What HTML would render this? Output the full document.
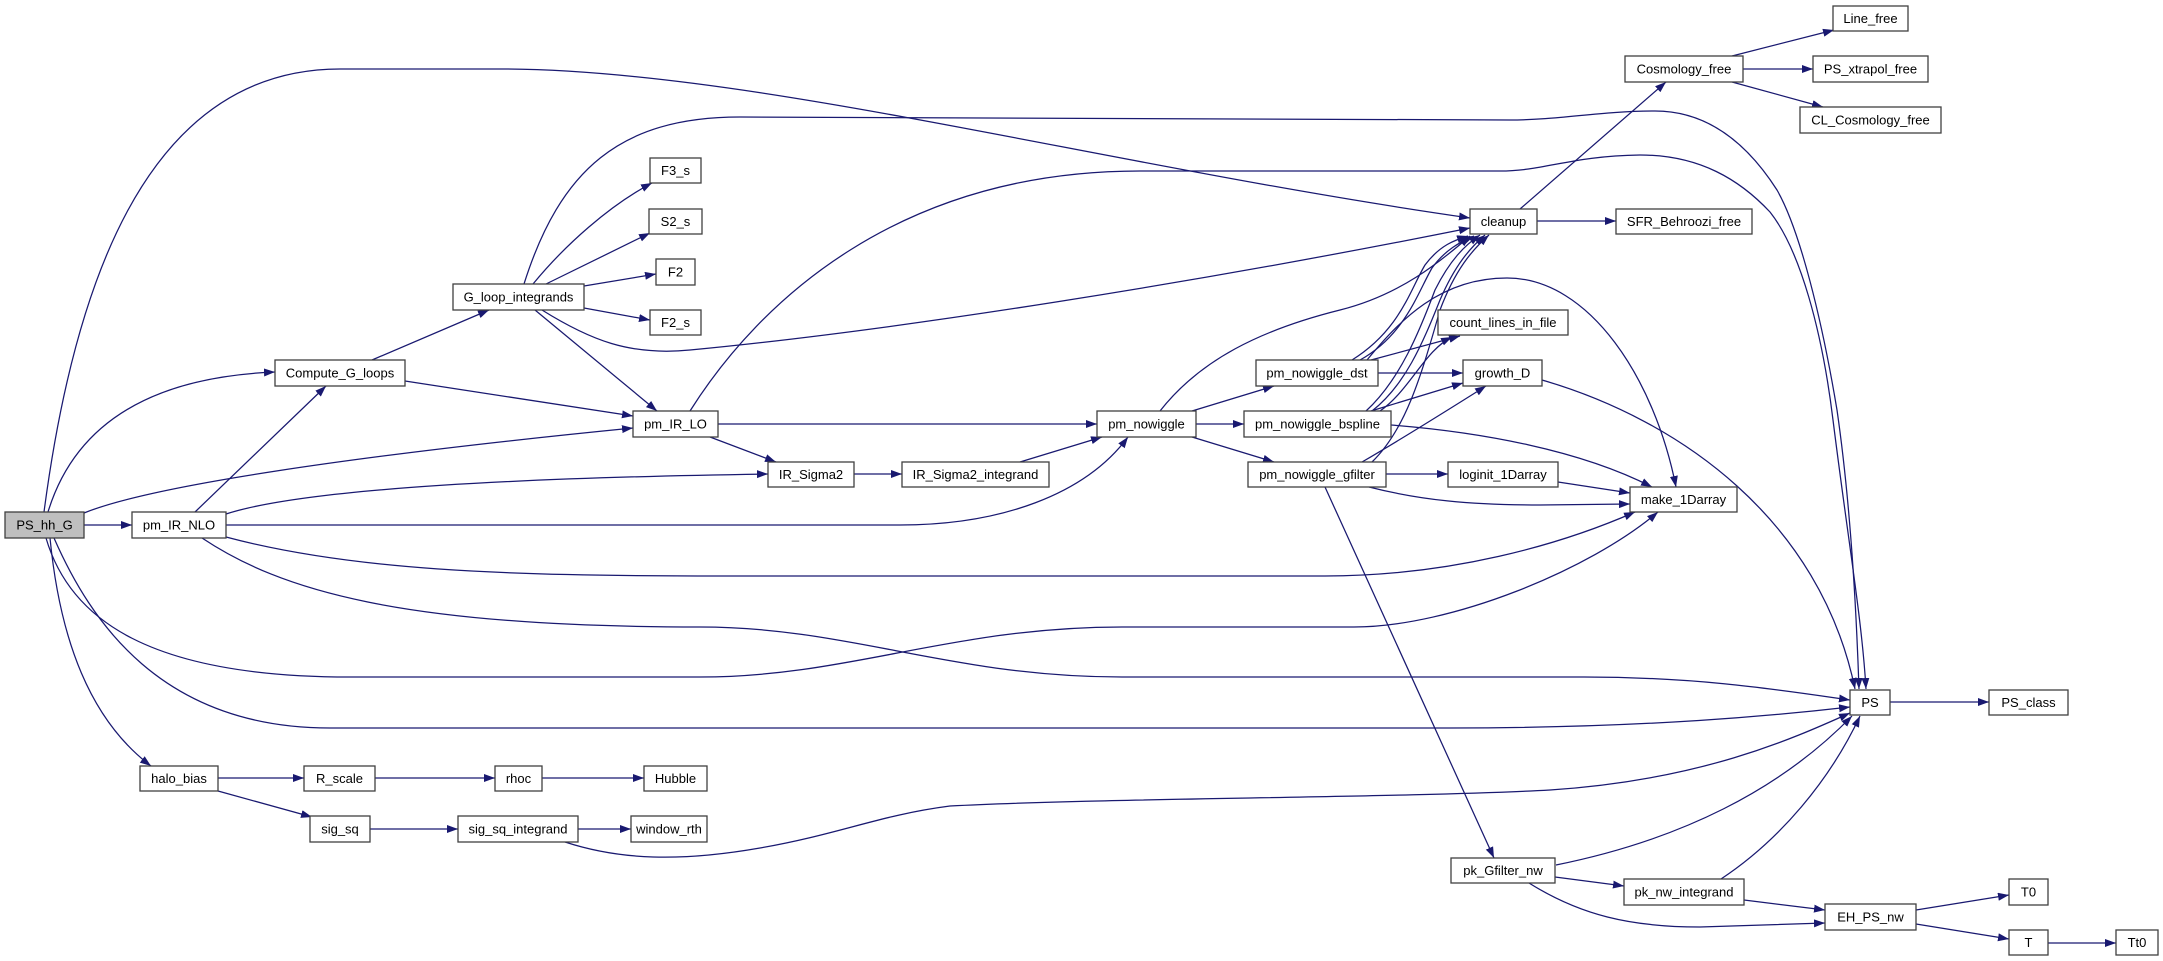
<!DOCTYPE html>
<html><head><meta charset="utf-8"><style>
html,body{margin:0;padding:0;background:#fff;}
svg{display:block;}
text{font-family:"Liberation Sans",Arial,sans-serif;font-size:13px;fill:#000;text-anchor:middle;}
.e{fill:none;stroke:#191970;stroke-width:1.25;marker-end:url(#ah);}
.n{fill:#fff;stroke:#404040;stroke-width:1.3;}
</style></head><body>
<svg width="2163" height="961" viewBox="0 0 2163 961" xmlns="http://www.w3.org/2000/svg">
<defs>
<marker id="ah" markerUnits="userSpaceOnUse" markerWidth="12" markerHeight="9" refX="11" refY="4" orient="auto">
<path d="M0,0 L11,4 L0,8 z" fill="#191970"/>
</marker>
</defs>
<rect width="2163" height="961" fill="#fff"/>
<!-- edges -->
<path class="e" d="M84,525 L132,525"/>
<path class="e" d="M48,512 C70,440 130,378 275,372"/>
<path class="e" d="M84,513 C150,486 350,456 633,428"/>
<path class="e" d="M44,512 C72,300 140,69 340,69 L500,69 C750,69 1100,165 1470,218"/>
<path class="e" d="M50,538 C60,640 90,720 151,766"/>
<path class="e" d="M54,538 C90,620 160,728 330,728 L1450,728 C1650,728 1780,715 1850,707"/>
<path class="e" d="M46,538 C70,620 150,677 350,677 L700,677 C850,677 950,627 1122,627 L1354,627 C1450,627 1590,570 1658,512"/>
<path class="e" d="M202,538 C280,590 400,627 700,627 C850,627 950,677 1122,677 L1584,677 C1700,677 1780,690 1850,700"/>
<path class="e" d="M226,537 C350,570 500,576 720,576 L1325,576 C1450,576 1560,545 1635,512"/>
<path class="e" d="M226,525 L900,525 C1000,525 1085,495 1128,437"/>
<path class="e" d="M226,514 C300,490 500,478 768,474"/>
<path class="e" d="M195,512 L326,386"/>
<path class="e" d="M372,360 L489,310"/>
<path class="e" d="M405,381 L633,416"/>
<path class="e" d="M535,310 L657,411"/>
<path class="e" d="M533,284 C565,245 610,205 652,183"/>
<path class="e" d="M546,284 L650,233"/>
<path class="e" d="M584,286 L656,274"/>
<path class="e" d="M584,308 L650,320"/>
<path class="e" d="M542,310 C590,340 630,356 690,350 C900,330 1200,282 1470,228"/>
<path class="e" d="M524,284 C560,170 620,117 740,117 L1510,120 C1560,120 1600,111 1655,111 C1705,111 1745,140 1777,190 C1800,230 1822,320 1837,410 C1850,500 1856,600 1859,689"/>
<path class="e" d="M690,411 C760,300 900,171 1140,171 L1500,171 C1545,171 1570,156 1640,155 C1700,155 1740,180 1770,212 C1800,250 1822,330 1833,420 C1848,540 1862,620 1866,689"/>
<path class="e" d="M718,424 L1097,424"/>
<path class="e" d="M710,437 L776,462"/>
<path class="e" d="M854,474 L902,474"/>
<path class="e" d="M1020,462 L1102,437"/>
<path class="e" d="M1160,411 C1200,360 1260,330 1340,310 C1400,295 1440,262 1470,236"/>
<path class="e" d="M1192,411 L1274,386"/>
<path class="e" d="M1196,424 L1244,424"/>
<path class="e" d="M1192,437 L1274,462"/>
<path class="e" d="M1352,360 C1400,330 1410,290 1425,265 C1440,245 1455,240 1468,236"/>
<path class="e" d="M1360,360 C1405,335 1418,292 1432,268 C1445,250 1460,242 1474,236"/>
<path class="e" d="M1371,360 L1460,336"/>
<path class="e" d="M1378,373 L1463,373"/>
<path class="e" d="M1367,360 C1400,320 1440,278 1507,278 C1590,278 1655,380 1676,487"/>
<path class="e" d="M1366,411 C1400,380 1420,330 1435,290 C1450,260 1465,245 1480,235"/>
<path class="e" d="M1372,411 C1405,385 1422,345 1440,300 C1455,265 1470,248 1485,235"/>
<path class="e" d="M1380,411 C1410,390 1425,350 1452,337"/>
<path class="e" d="M1371,411 L1463,383"/>
<path class="e" d="M1391,425 C1480,432 1580,450 1652,487"/>
<path class="e" d="M1372,462 C1405,430 1420,380 1440,310 C1455,270 1472,250 1489,235"/>
<path class="e" d="M1362,462 C1400,440 1440,415 1486,386"/>
<path class="e" d="M1386,474 L1448,474"/>
<path class="e" d="M1369,487 C1420,500 1470,505 1540,505 L1630,504"/>
<path class="e" d="M1325,487 L1494,858"/>
<path class="e" d="M1558,482 L1630,493"/>
<path class="e" d="M1542,380 C1680,420 1820,520 1855,689"/>
<path class="e" d="M1520,209 L1666,82"/>
<path class="e" d="M1537,221 L1616,221"/>
<path class="e" d="M1732,56 L1834,30"/>
<path class="e" d="M1743,69 L1813,69"/>
<path class="e" d="M1732,82 L1823,107"/>
<path class="e" d="M1890,702 L1989,702"/>
<path class="e" d="M218,778 L304,778"/>
<path class="e" d="M218,791 L312,817"/>
<path class="e" d="M375,778 L495,778"/>
<path class="e" d="M542,778 L644,778"/>
<path class="e" d="M370,829 L458,829"/>
<path class="e" d="M578,829 L631,829"/>
<path class="e" d="M565,842 C620,860 680,862 760,848 C840,834 880,815 950,806 C1100,798 1400,798 1550,790 C1700,780 1790,740 1850,713"/>
<path class="e" d="M1556,865 C1680,840 1780,790 1852,716"/>
<path class="e" d="M1555,877 L1624,886"/>
<path class="e" d="M1529,883 C1580,915 1630,927 1700,927 L1825,923"/>
<path class="e" d="M1721,879 C1780,840 1830,780 1860,716"/>
<path class="e" d="M1744,900 L1825,910"/>
<path class="e" d="M1916,910 L2009,895"/>
<path class="e" d="M1916,924 L2009,939"/>
<path class="e" d="M2048,943 L2116,943"/>
<!-- nodes -->
<rect class="n" x="1833" y="6" width="75" height="25"/><text x="1870.5" y="23">Line_free</text>
<rect class="n" x="1625" y="56" width="118" height="26"/><text x="1684" y="73.5">Cosmology_free</text>
<rect class="n" x="1813" y="56" width="115" height="26"/><text x="1870.5" y="73.5">PS_xtrapol_free</text>
<rect class="n" x="1800" y="107" width="141" height="26"/><text x="1870.5" y="124.5">CL_Cosmology_free</text>
<rect class="n" x="650" y="158" width="51" height="25"/><text x="675.5" y="175">F3_s</text>
<rect class="n" x="649" y="209" width="53" height="25"/><text x="675.5" y="226">S2_s</text>
<rect class="n" x="1470" y="209" width="67" height="25"/><text x="1503.5" y="226">cleanup</text>
<rect class="n" x="1616" y="209" width="136" height="25"/><text x="1684" y="226">SFR_Behroozi_free</text>
<rect class="n" x="656" y="259" width="39" height="26"/><text x="675.5" y="276.5">F2</text>
<rect class="n" x="453" y="284" width="131" height="26"/><text x="518.5" y="301.5">G_loop_integrands</text>
<rect class="n" x="650" y="310" width="51" height="25"/><text x="675.5" y="327">F2_s</text>
<rect class="n" x="1438" y="310" width="130" height="25"/><text x="1503" y="327">count_lines_in_file</text>
<rect class="n" x="275" y="360" width="130" height="26"/><text x="340" y="377.5">Compute_G_loops</text>
<rect class="n" x="1256" y="360" width="122" height="26"/><text x="1317" y="377.5">pm_nowiggle_dst</text>
<rect class="n" x="1463" y="360" width="79" height="26"/><text x="1502.5" y="377.5">growth_D</text>
<rect class="n" x="633" y="411" width="85" height="26"/><text x="675.5" y="428.5">pm_IR_LO</text>
<rect class="n" x="1097" y="411" width="99" height="26"/><text x="1146.5" y="428.5">pm_nowiggle</text>
<rect class="n" x="1244" y="411" width="147" height="26"/><text x="1317.5" y="428.5">pm_nowiggle_bspline</text>
<rect class="n" x="768" y="462" width="86" height="25"/><text x="811" y="479">IR_Sigma2</text>
<rect class="n" x="902" y="462" width="147" height="25"/><text x="975.5" y="479">IR_Sigma2_integrand</text>
<rect class="n" x="1248" y="462" width="138" height="25"/><text x="1317" y="479">pm_nowiggle_gfilter</text>
<rect class="n" x="1448" y="462" width="110" height="25"/><text x="1503" y="479">loginit_1Darray</text>
<rect class="n" x="1630" y="487" width="107" height="25"/><text x="1683.5" y="504">make_1Darray</text>
<rect class="n" x="5" y="512" width="79" height="26" style="fill:#bfbfbf"/><text x="44.5" y="529.5">PS_hh_G</text>
<rect class="n" x="132" y="512" width="94" height="26"/><text x="179" y="529.5">pm_IR_NLO</text>
<rect class="n" x="1850" y="690" width="40" height="25"/><text x="1870" y="707">PS</text>
<rect class="n" x="1989" y="690" width="79" height="25"/><text x="2028.5" y="707">PS_class</text>
<rect class="n" x="140" y="766" width="78" height="25"/><text x="179" y="783">halo_bias</text>
<rect class="n" x="304" y="766" width="71" height="25"/><text x="339.5" y="783">R_scale</text>
<rect class="n" x="495" y="766" width="47" height="25"/><text x="518.5" y="783">rhoc</text>
<rect class="n" x="644" y="766" width="63" height="25"/><text x="675.5" y="783">Hubble</text>
<rect class="n" x="310" y="816" width="60" height="26"/><text x="340" y="833.5">sig_sq</text>
<rect class="n" x="458" y="816" width="120" height="26"/><text x="518" y="833.5">sig_sq_integrand</text>
<rect class="n" x="631" y="816" width="76" height="26"/><text x="669" y="833.5">window_rth</text>
<rect class="n" x="1451" y="858" width="104" height="25"/><text x="1503" y="875">pk_Gfilter_nw</text>
<rect class="n" x="1624" y="879" width="120" height="26"/><text x="1684" y="896.5">pk_nw_integrand</text>
<rect class="n" x="2009" y="879" width="39" height="26"/><text x="2028.5" y="896.5">T0</text>
<rect class="n" x="1825" y="904" width="91" height="26"/><text x="1870.5" y="921.5">EH_PS_nw</text>
<rect class="n" x="2009" y="930" width="39" height="25"/><text x="2028.5" y="947">T</text>
<rect class="n" x="2116" y="930" width="42" height="25"/><text x="2137" y="947">Tt0</text>
</svg>
</body></html>
